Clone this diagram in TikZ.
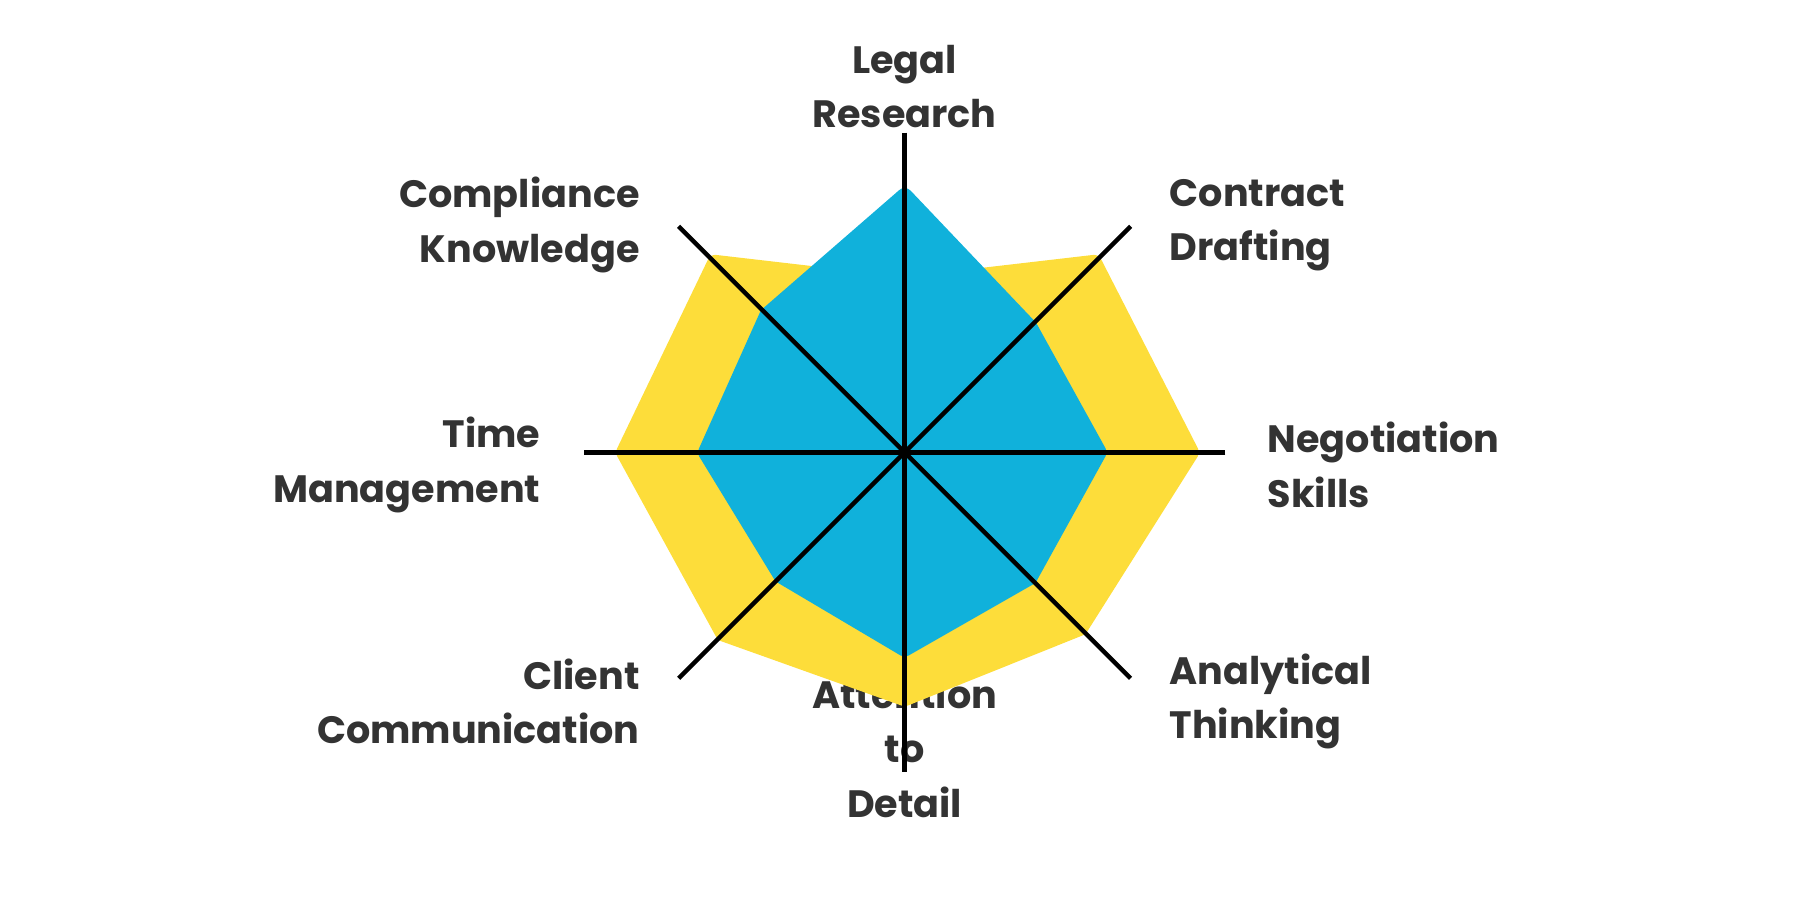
\documentclass[tikz,border=0pt]{standalone}
\usepackage{fontspec}
\setmainfont{Poppins}
\begin{document}
\begin{tikzpicture}[x=0.01cm,y=-0.01cm,
  lbl/.style={font=\bfseries\fontsize{9.4}{13.4}\selectfont,text=black!80,inner sep=0pt},
  axisline/.style={line width=1.1pt,black}]
\definecolor{yel}{HTML}{FDDD3A}
\definecolor{blu}{HTML}{10B1DB}
\useasboundingbox (0,0) rectangle (1560,780);
% labels
\node[lbl,align=center,anchor=center] (lr) at (784,75) {Legal\\Research};
\node[lbl,align=right,anchor=east] (ck) at (555,195) {Compliance\\Knowledge};
\node[lbl,align=left,anchor=west] (cd) at (1013,195) {Contract\\Drafting};
\node[lbl,align=right,anchor=east] (tm) at (469,403) {Time\\Management};
\node[lbl,align=left,anchor=west] (ns) at (1098,403) {Negotiation\\Skills};
\node[lbl,align=right,anchor=east] (cc) at (555,608) {Client\\Communication};
\node[lbl,align=left,anchor=west] (at) at (1013,608) {Analytical\\Thinking};
\node[lbl,align=center,anchor=center] (ad) at (784,648) {Attention\\to\\Detail};
\begin{scope}[shift={(784,392)},x=0.01cm,y=0.01cm]
\coordinate (c) at (0,0);
\fill[yel,draw=yel,line width=4pt,line join=round]
  (90:145) -- (45:232) -- (0:248) -- (-45:215) -- (-90:213) -- (-135:222) -- (180:243) -- (135:232) -- cycle;
\fill[blu,draw=blu,line width=4pt,line join=round]
  (90:222) -- (45:153) -- (0:168) -- (-45:153) -- (-90:170) -- (-135:151) -- (180:172) -- (135:168) -- cycle;
\coordinate (n) at (90:277); \coordinate (s) at (-90:277);
\coordinate (e) at (0:278); \coordinate (w) at (180:278);
\coordinate (ne) at (45:277); \coordinate (sw) at (-135:277);
\coordinate (nw) at (135:277); \coordinate (se) at (-45:277);
\draw[axisline] (n) -- (s);
\draw[axisline] (e) -- (w);
\draw[axisline] (ne) -- (sw);
\draw[axisline] (nw) -- (se);
\end{scope}
\end{tikzpicture}
\end{document}
